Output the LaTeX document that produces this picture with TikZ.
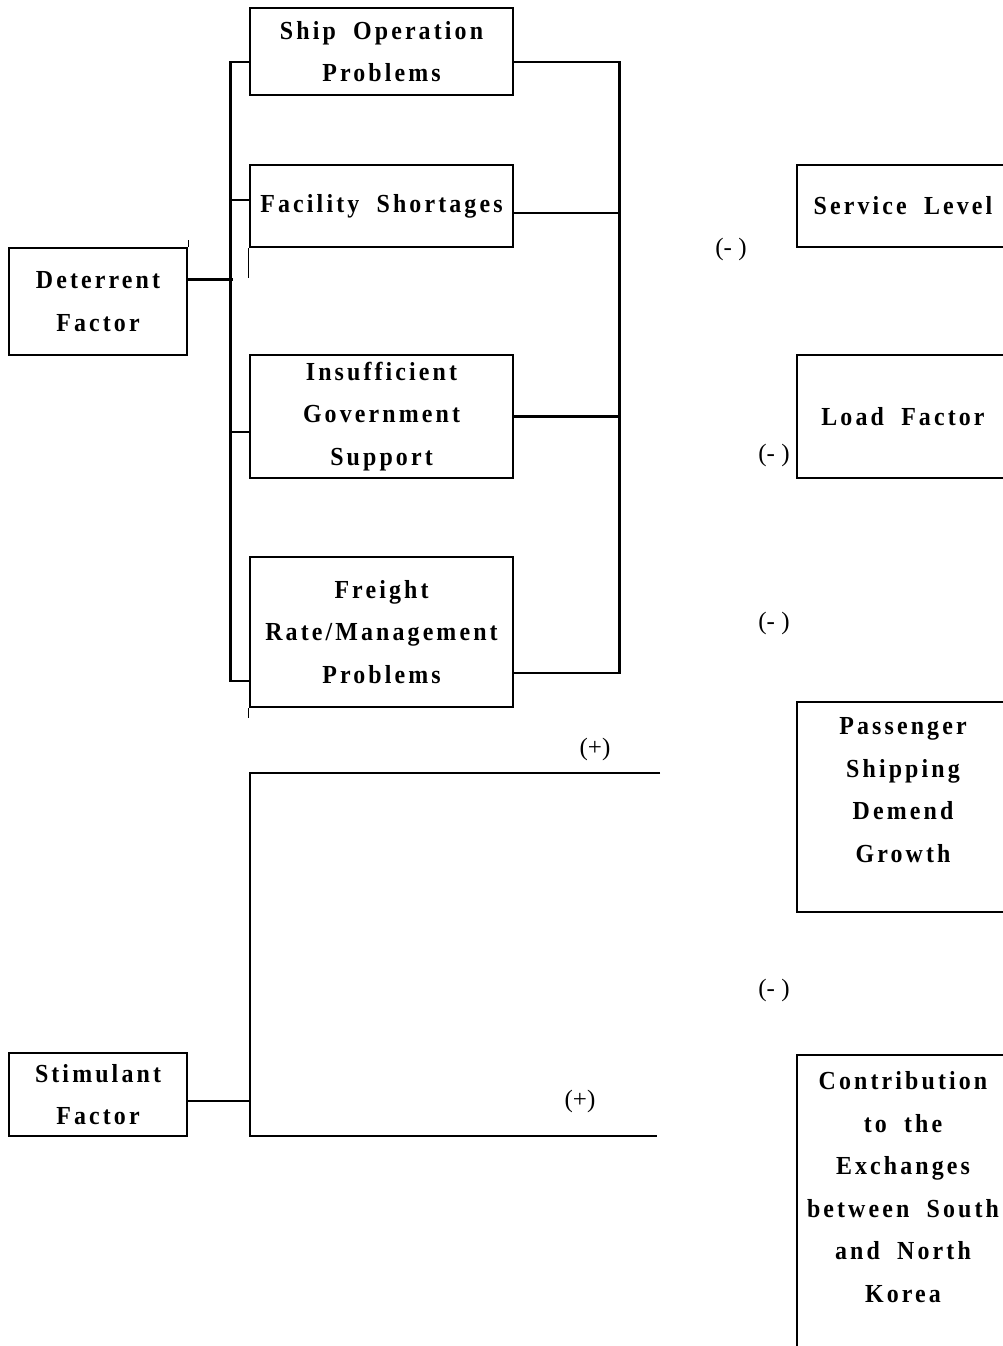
\documentclass[tikz,border=0pt]{standalone}
\usepackage{fontspec}
\setmainfont{Liberation Serif}
\newfontfamily\boxfont{Liberation Serif}[FakeStretch=0.92,LetterSpace=12,WordSpace=1.9]
\usetikzlibrary{positioning,calc}
\tikzset{
  factorbox/.style={draw, line width=2.6pt, align=center, inner sep=0pt,
                    font=\boxfont\bfseries\fontsize{26}{42.5}\selectfont},
  link/.style={line width=2.5pt},
  stub/.style={line width=0.8pt},
  signlbl/.style={inner sep=0pt, font=\fontsize{25}{28}\selectfont}}
\begin{document}
\begin{tikzpicture}[x=1pt,y=-1pt]
  \useasboundingbox (0,0) rectangle (1002,1346);
  % left column
  \node[factorbox, minimum width=178pt, minimum height=107pt] (deter) at (98,301.5) {Deterrent\\Factor};
  \node[factorbox, minimum width=178pt, minimum height=83pt] (stim) at (98,1094.5) {Stimulant\\Factor};
  % problem boxes
  \node[factorbox, minimum width=263pt, minimum height=87pt] (shipop) at (381.5,51.5) {Ship Operation\\Problems};
  \node[factorbox, minimum width=263pt, minimum height=82pt] (facil) at (381.5,206) {Facility Shortages};
  \node[factorbox, minimum width=263pt, minimum height=123pt] (govsup) at (381.5,416.5) {Insufficient\\Government\\Support};
  \node[factorbox, minimum width=263pt, minimum height=150pt] (freight) at (381.5,632) {Freight\\Rate/Management\\Problems};
  % result boxes, cut off by the page edge
  \node[factorbox, minimum width=212pt, minimum height=82pt] (service) at (903,206) {Service Level};
  \node[factorbox, minimum width=212pt, minimum height=123pt] (load) at (903,416.5) {Load Factor};
  \node[factorbox, minimum width=212pt, minimum height=210pt] (demand) at (903,807)
    {Passenger\\Shipping\\Demend\\Growth\rule[-34pt]{0pt}{34pt}};
  \node[factorbox, minimum width=212pt, minimum height=330pt] (contrib) at (903,1220)
    {Contribution\\to the\\Exchanges\\between South\\and North\\Korea\rule[-66pt]{0pt}{66pt}};

  % deterrent tree
  \draw[link] ([yshift=-10.5pt]shipop.west) -- ++(-18,0) |- ([yshift=-49pt]freight.west);
  \draw[link] ([yshift=6pt]facil.west) -- ++(-18,0);
  \draw[link] ([yshift=-15.5pt]govsup.west) -- ++(-18,0);
  \draw[link] ([yshift=22pt]deter.east) -- ++(45,0);
  \draw[link] ([yshift=-10.5pt]shipop.east) -- ++(105,0) |- ([yshift=-41pt]freight.east);
  \draw[link] ([yshift=-7pt]facil.east) -- ++(105,0);
  \draw[link] (govsup.east) -- ++(105,0);
  \draw[stub] (deter.north east) -- ++(0,-7);
  \draw[stub] (facil.south west) -- ++(0,30);
  \draw[stub] (freight.south west) -- ++(0,10);

  % stimulant tree
  \coordinate (plustop) at (660,773);
  \coordinate (plusbot) at (657,1136);
  \coordinate (stimbot) at (250,1136);
  \draw[link] (plustop) -| (stimbot) -- (plusbot);
  \draw[link] ([yshift=-6.5pt]stim.east) -- ++(63,0);

  % signs
  \node[signlbl] (sgnA) at (731,249) {(- )};
  \node[signlbl] (sgnB) at (774,455) {(- )};
  \node[signlbl] (sgnC) at (774,623) {(- )};
  \node[signlbl] (sgnD) at (774,990) {(- )};
  \node[signlbl] (sgnE) at (595,749) {(+)};
  \node[signlbl] (sgnF) at (580,1101) {(+)};
\end{tikzpicture}
\end{document}
